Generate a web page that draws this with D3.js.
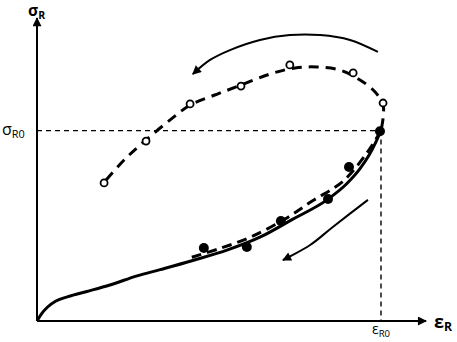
<!DOCTYPE html>
<html>
<head>
<meta charset="utf-8">
<script src="https://cdn.jsdelivr.net/npm/d3@7"></script>
<style>
    body { margin: 0; background: #fff; }
    text { font-family: "Open Sans", "DejaVu Sans", sans-serif; fill: #000; }
</style>
</head>
<body>
<div id="chart"></div>
<script>
// strain / stress normalised so that eps_R0 = 1 and sigma_R0 = 1
const loadX = [0, 0.012, 0.03, 0.055, 0.09, 0.145, 0.212, 0.291, 0.358, 0.453, 0.552, 0.648, 0.744, 0.843, 0.901, 0.939, 0.965, 0.985, 1]
const loadY = [0, 0.035, 0.072, 0.105, 0.128, 0.155, 0.189, 0.237, 0.270, 0.318, 0.372, 0.440, 0.535, 0.636, 0.722, 0.800, 0.870, 0.940, 1]

const unloadX = [1, 0.96, 0.89, 0.80, 0.72, 0.62, 0.53, 0.45]
const unloadY = [1, 0.885, 0.735, 0.63, 0.535, 0.44, 0.38, 0.335]

const reloadX = [0.201, 0.256, 0.317, 0.387, 0.445, 0.517, 0.593, 0.677, 0.750, 0.814, 0.881, 0.939, 0.983, 1.006, 1.006, 1]
const reloadY = [0.741, 0.851, 0.951, 1.056, 1.134, 1.187, 1.239, 1.297, 1.329, 1.334, 1.318, 1.266, 1.203, 1.134, 1.066, 1]

const filledX = [0.485, 0.610, 0.709, 0.846, 0.907, 0.997]
const filledY = [0.383, 0.389, 0.525, 0.641, 0.809, 0.997]

const openX = [0.195, 0.317, 0.445, 0.593, 0.735, 0.919, 1.006]
const openY = [0.725, 0.945, 1.140, 1.234, 1.345, 1.303, 1.145]

const topArrowX = [0.991, 0.910, 0.823, 0.735, 0.648, 0.561, 0.503, 0.453]
const topArrowY = [1.413, 1.476, 1.502, 1.502, 1.476, 1.423, 1.371, 1.297]

const lowArrowX = [0.962, 0.860, 0.794, 0.715]
const lowArrowY = [0.636, 0.494, 0.399, 0.320]

const axisMax = {x: 1.131, y: 1.591}

const width = 457, height = 342
const svg = d3.select("#chart").append("svg")
    .attr("width", width)
    .attr("height", height)

const x = d3.scaleLinear().domain([0, 1]).range([37, 381])
const y = d3.scaleLinear().domain([0, 1]).range([321, 130.6])

const zip = (xs, ys) => xs.map((v, i) => [v, ys[i]])

// arrow heads
const defs = svg.append("defs")
function addMarker(id, w, h) {
    defs.append("marker")
        .attr("id", id)
        .attr("viewBox", "0 0 10 10")
        .attr("refX", 9)
        .attr("refY", 5)
        .attr("markerUnits", "userSpaceOnUse")
        .attr("markerWidth", w)
        .attr("markerHeight", h)
        .attr("orient", "auto")
        .append("path")
        .attr("d", "M0,0 L10,5 L0,10 Z")
        .attr("fill", "#000")
}
addMarker("axisHead", 12, 9)
addMarker("curveHead", 12, 9)

// reference lines for sigma_R0 / eps_R0
svg.append("line")
    .attr("x1", x(0)).attr("x2", x(1))
    .attr("y1", y(1)).attr("y2", y(1))
    .attr("stroke", "#000").attr("stroke-width", 1.4)
    .attr("stroke-dasharray", "5,4")
svg.append("line")
    .attr("x1", x(1)).attr("x2", x(1))
    .attr("y1", y(1)).attr("y2", y(0))
    .attr("stroke", "#000").attr("stroke-width", 1.4)
    .attr("stroke-dasharray", "5,4")

// axes
svg.append("line")
    .attr("x1", x(0)).attr("y1", y(0))
    .attr("x2", x(axisMax.x)).attr("y2", y(0))
    .attr("stroke", "#000").attr("stroke-width", 2)
    .attr("marker-end", "url(#axisHead)")
svg.append("line")
    .attr("x1", x(0)).attr("y1", y(0))
    .attr("x2", x(0)).attr("y2", y(axisMax.y))
    .attr("stroke", "#000").attr("stroke-width", 2)
    .attr("marker-end", "url(#axisHead)")

const line = d3.line()
    .x(d => x(d[0]))
    .y(d => y(d[1]))
    .curve(d3.curveCatmullRom.alpha(0.5))

const smooth = d3.line()
    .x(d => x(d[0]))
    .y(d => y(d[1]))
    .curve(d3.curveMonotoneX)

// loading curve
svg.append("path")
    .datum(zip(loadX, loadY))
    .attr("d", smooth)
    .attr("fill", "none")
    .attr("stroke", "#000")
    .attr("stroke-width", 3)

// unloading (dashed)
svg.append("path")
    .datum(zip(unloadX, unloadY))
    .attr("d", line)
    .attr("fill", "none")
    .attr("stroke", "#000")
    .attr("stroke-width", 3)
    .attr("stroke-dasharray", "10,6")

// reloading (dashed)
svg.append("path")
    .datum(zip(reloadX, reloadY))
    .attr("d", line)
    .attr("fill", "none")
    .attr("stroke", "#000")
    .attr("stroke-width", 3)
    .attr("stroke-dasharray", "10,7")

// direction arrows
svg.append("path")
    .datum(zip(topArrowX, topArrowY))
    .attr("d", line)
    .attr("fill", "none")
    .attr("stroke", "#000")
    .attr("stroke-width", 2)
    .attr("marker-end", "url(#curveHead)")
svg.append("path")
    .datum(zip(lowArrowX, lowArrowY))
    .attr("d", line)
    .attr("fill", "none")
    .attr("stroke", "#000")
    .attr("stroke-width", 2)
    .attr("marker-end", "url(#curveHead)")

// markers
svg.selectAll("circle.filled")
    .data(zip(filledX, filledY))
    .enter()
    .append("circle")
    .attr("class", "filled")
    .attr("cx", d => x(d[0]))
    .attr("cy", d => y(d[1]))
    .attr("r", 5)
    .attr("fill", "#000")
svg.selectAll("circle.open")
    .data(zip(openX, openY))
    .enter()
    .append("circle")
    .attr("class", "open")
    .attr("cx", d => x(d[0]))
    .attr("cy", d => y(d[1]))
    .attr("r", 3.5)
    .attr("fill", "#fff")
    .attr("stroke", "#000")
    .attr("stroke-width", 1.8)

// labels
function label(tx, ty, main, sub, bold, size, anchor) {
    const t = svg.append("text")
        .attr("x", tx)
        .attr("y", ty)
        .attr("text-anchor", anchor || "start")
        .style("font-weight", bold ? "bold" : "normal")
        .style("font-size", size + "px")
    t.append("tspan").text(main)
    t.append("tspan")
        .attr("dy", 3)
        .style("font-size", (size * 0.68) + "px")
        .text(sub)
}
label(28, 16, "σ", "R", true, 15.5)
label(2, 135, "σ", "R0", false, 16)
label(434, 328, "ε", "R", true, 18)
label(x(1), 334, "ε", "R0", false, 14, "middle")
</script>
</body>
</html>
